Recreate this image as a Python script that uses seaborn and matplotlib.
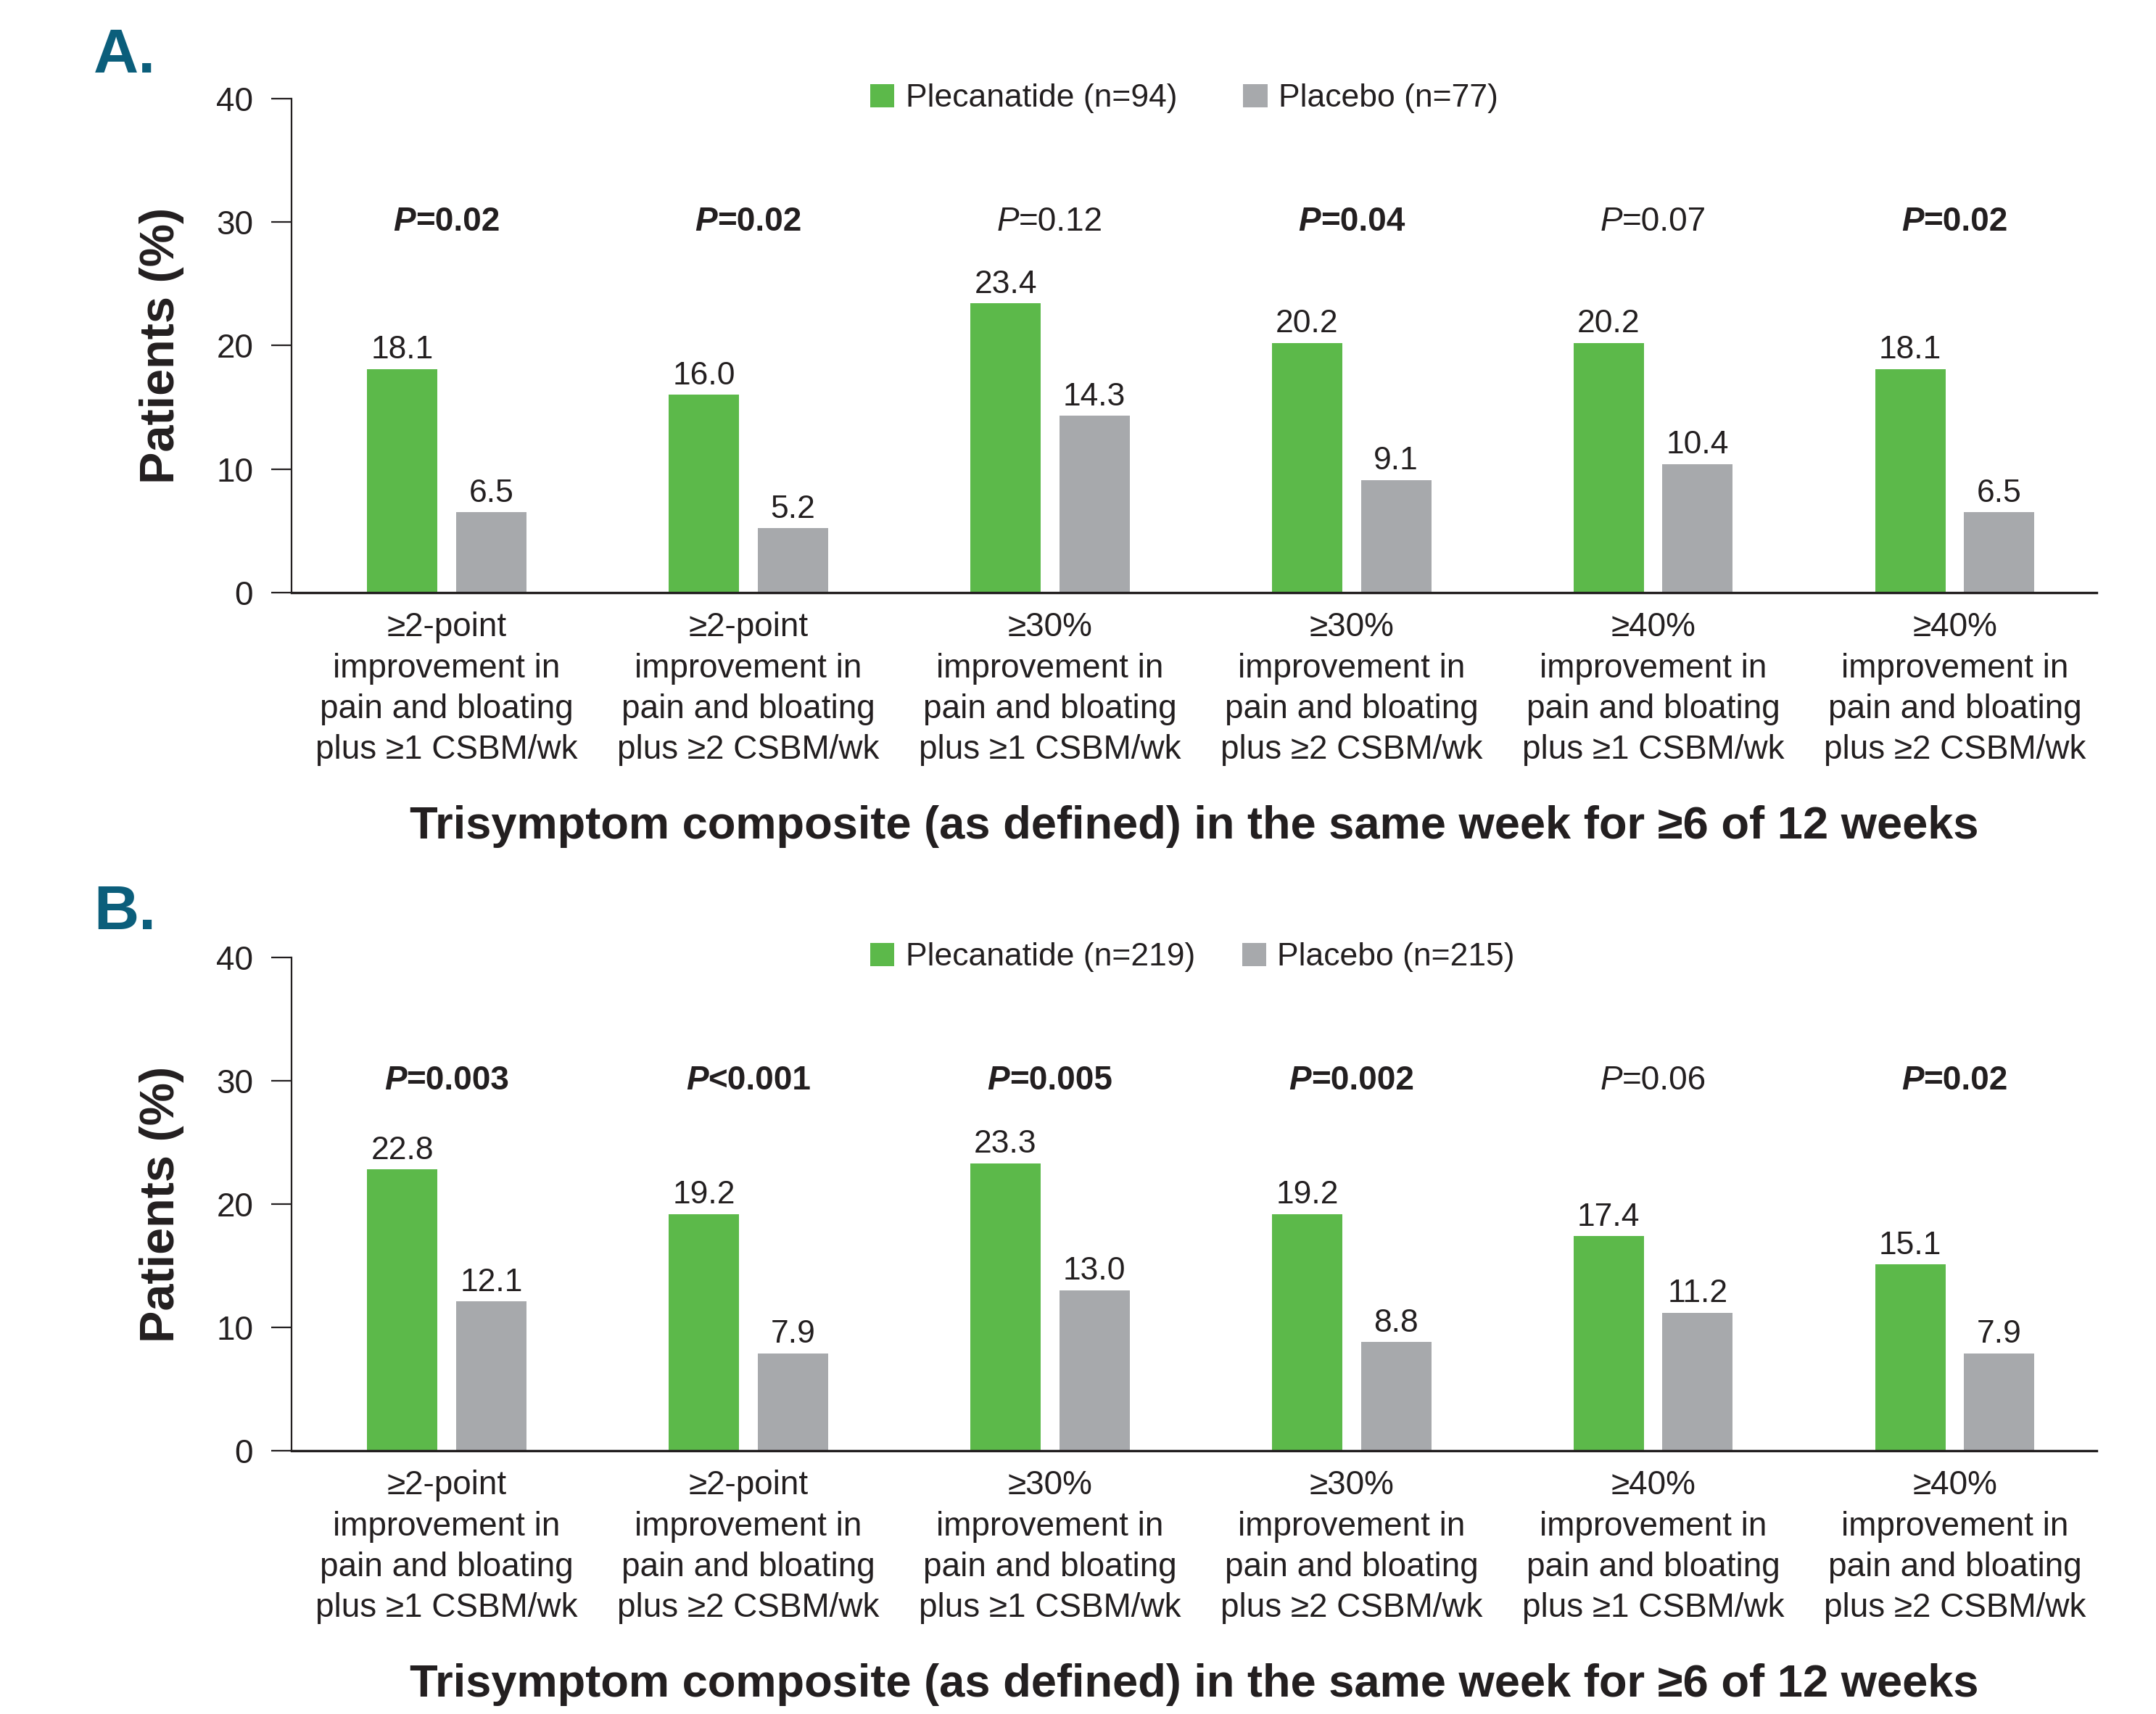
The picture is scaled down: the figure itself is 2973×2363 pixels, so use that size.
import numpy as np
import pandas as pd
import matplotlib
matplotlib.use('Agg')
import matplotlib.pyplot as plt
import seaborn as sns
from matplotlib.patches import Patch
from matplotlib.offsetbox import TextArea, HPacker, AnnotationBbox

# data
categories = [
    '≥2-point\nimprovement in\npain and bloating\nplus ≥1 CSBM/wk',
    '≥2-point\nimprovement in\npain and bloating\nplus ≥2 CSBM/wk',
    '≥30%\nimprovement in\npain and bloating\nplus ≥1 CSBM/wk',
    '≥30%\nimprovement in\npain and bloating\nplus ≥2 CSBM/wk',
    '≥40%\nimprovement in\npain and bloating\nplus ≥1 CSBM/wk',
    '≥40%\nimprovement in\npain and bloating\nplus ≥2 CSBM/wk',
]
groups_a = ['Plecanatide (n=94)', 'Placebo (n=77)']
plec_a = [18.1, 16.0, 23.4, 20.2, 20.2, 18.1]
plac_a = [6.5, 5.2, 14.3, 9.1, 10.4, 6.5]
pval_a = ['=0.02', '=0.02', '=0.12', '=0.04', '=0.07', '=0.02']
sig_a = [True, True, False, True, False, True]

groups_b = ['Plecanatide (n=219)', 'Placebo (n=215)']
plec_b = [22.8, 19.2, 23.3, 19.2, 17.4, 15.1]
plac_b = [12.1, 7.9, 13.0, 8.8, 11.2, 7.9]
pval_b = ['=0.003', '<0.001', '=0.005', '=0.002', '=0.06', '=0.02']
sig_b = [True, True, True, True, False, True]

yticks = [0, 10, 20, 30, 40]
xlabel = 'Trisymptom composite (as defined) in the same week for ≥6 of 12 weeks'

GREEN = '#5CB94A'
GRAY = '#A7A9AC'
TEAL = '#0B5E7B'
INK = '#231F20'

sns.set_style('white')
plt.rcParams['font.family'] = ['Liberation Sans', 'DejaVu Sans']
plt.rcParams['text.color'] = INK
plt.rcParams['axes.labelcolor'] = INK
plt.rcParams['xtick.color'] = INK
plt.rcParams['ytick.color'] = INK


def draw_panel(ax, plec, plac, pvals, sig, groups, colspace):
    df = pd.DataFrame({
        'cat': categories * 2,
        'group': [groups[0]] * 6 + [groups[1]] * 6,
        'value': plec + plac,
    })
    sns.barplot(data=df, x='cat', y='value', hue='group', order=categories,
                hue_order=groups, palette=[GREEN, GRAY], saturation=1,
                width=0.59, gap=0.21, errorbar=None, legend=False, ax=ax, linewidth=0)

    for cont in ax.containers:
        ax.bar_label(cont, fmt='%.1f', padding=4, fontsize=32, color=INK)

    # p values, italic P
    for i, (p, s) in enumerate(zip(pvals, sig)):
        w = 'bold' if s else 'normal'
        t1 = TextArea('P', textprops=dict(fontsize=33, fontstyle='italic', fontweight=w, color=INK))
        t2 = TextArea(p, textprops=dict(fontsize=33, fontweight=w, color=INK))
        box = HPacker(children=[t1, t2], pad=0, sep=0, align='baseline')
        ab = AnnotationBbox(box, (i, 30), xycoords='data', frameon=False,
                            box_alignment=(0.5, 0.5), pad=0)
        ax.add_artist(ab)

    ax.set_ylim(0, 40)
    ax.set_xlim(-0.515, 5.47)
    ax.set_yticks(yticks)
    ax.tick_params(axis='y', direction='out', length=20, width=1.6, pad=18, labelsize=33, left=True)
    ax.tick_params(axis='x', length=0, pad=19, labelsize=33)
    for lab in ax.get_xticklabels():
        lab.set_linespacing(1.36)
    sns.despine(ax=ax)
    ax.spines['left'].set_linewidth(1.6)
    ax.spines['bottom'].set_linewidth(2.4)
    ax.spines['left'].set_color(INK)
    ax.spines['bottom'].set_color(INK)

    ax.set_ylabel('Patients (%)', fontsize=48, fontweight='bold')
    ax.yaxis.set_label_coords(-0.072, 0.5)
    ax.yaxis.label.set_va('center')
    ax.set_xlabel(xlabel, fontsize=45.5, fontweight='bold')
    ax.xaxis.set_label_coords(0.5, -0.474)
    ax.xaxis.label.set_va('center')

    handles = [Patch(facecolor=GREEN, edgecolor='none'), Patch(facecolor=GRAY, edgecolor='none')]
    ax.legend(handles, groups, loc='center left', bbox_to_anchor=(0.3206, 1.0),
              ncol=2, frameon=False, fontsize=32, handlelength=0.75, handleheight=0.75,
              handletextpad=0.35, columnspacing=colspace, borderpad=0, borderaxespad=0)


fig = plt.figure(figsize=(29.73, 23.63), dpi=100)
ax_a = fig.add_axes([0.1352, 0.6543, 0.8372, 0.2882])
ax_b = fig.add_axes([0.1352, 0.1536, 0.8372, 0.2878])

draw_panel(ax_a, plec_a, plac_a, pval_a, sig_a, groups_a, 2.05)
draw_panel(ax_b, plec_b, plac_b, pval_b, sig_b, groups_b, 1.45)

fig.text(0.0434, 0.9577, 'A.', fontsize=62, fontweight='bold', color=TEAL, va='baseline')
fig.text(0.0434, 0.4579, 'B.', fontsize=62, fontweight='bold', color=TEAL, va='baseline')

fig.savefig('out.png', dpi=100, facecolor='white')
